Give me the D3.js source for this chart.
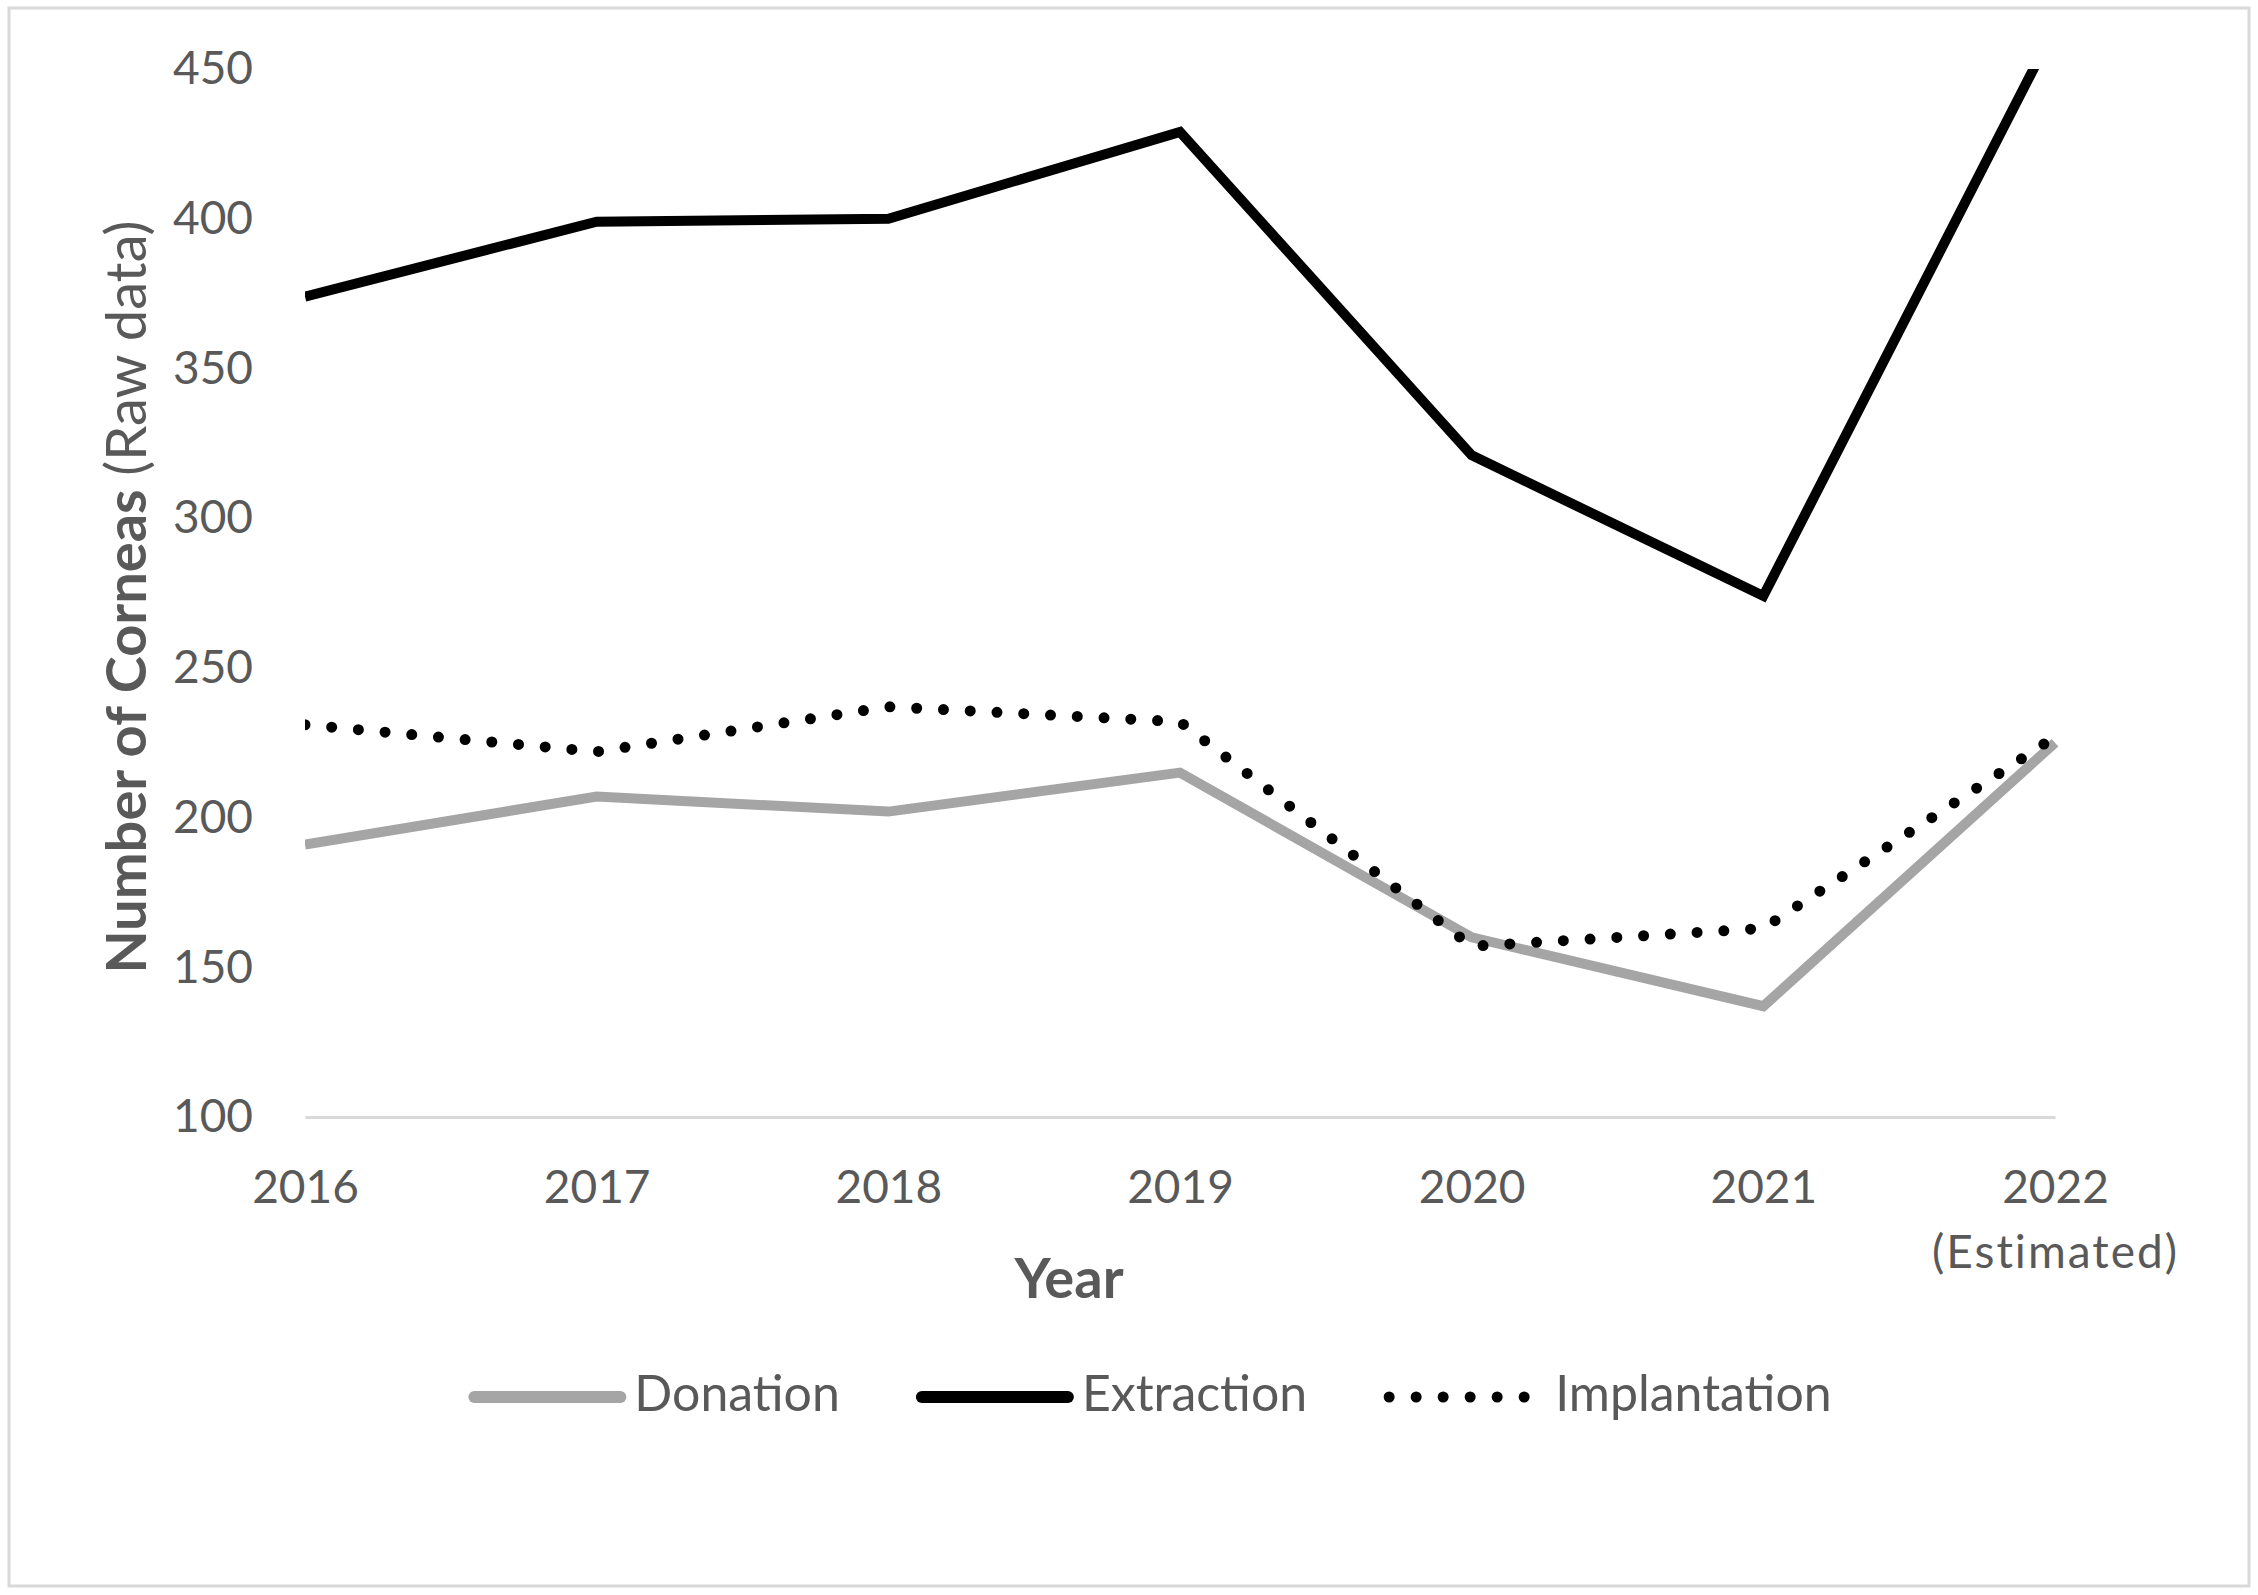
<!DOCTYPE html>
<html>
<head>
<meta charset="utf-8">
<script src="https://cdn.jsdelivr.net/npm/d3@7"></script>
<style>
  body { margin: 0; background: #fff; }
  text { font-family: Lato, "Open Sans", sans-serif; fill: #595959; }
</style>
</head>
<body>
<svg id="chart" width="2258" height="1595"></svg>
<script>
const years = ["2016", "2017", "2018", "2019", "2020", "2021", "2022"];
const yearNotes = ["", "", "", "", "", "", "(Estimated)"];
const yTicks = [100, 150, 200, 250, 300, 350, 400, 450];

const donation = [191, 207, 202, 215, 160, 137, 225];
const extraction = [374, 399, 400, 429, 321, 274, 464];
const implantation = [231, 222, 237, 232, 157, 163, 227];

const seriesNames = ["Donation", "Extraction", "Implantation"];

const svg = d3.select("#chart");
const W = +svg.attr("width"), H = +svg.attr("height");

// outer frame
svg.append("rect")
  .attr("x", 9).attr("y", 8)
  .attr("width", W - 18).attr("height", H - 17)
  .attr("fill", "#fff")
  .attr("stroke", "#d9d9d9")
  .attr("stroke-width", 3);

const plot = { left: 305, right: 2055, top: 69, bottom: 1117 };

const x = d3.scalePoint()
  .domain(years)
  .range([plot.left, plot.right]);

const y = d3.scaleLinear()
  .domain([100, 450])
  .range([plot.bottom, plot.top]);

// y axis labels only
const yAxis = svg.append("g")
  .attr("transform", `translate(${plot.left},0)`)
  .call(d3.axisLeft(y).tickValues(yTicks).tickSize(0).tickPadding(52));
yAxis.select(".domain").remove();
yAxis.selectAll("text")
  .attr("font-size", 46)
  .attr("font-family", null)
  .attr("fill", null);

// x axis (its line is the single light grid line)
const xAxis = svg.append("g")
  .attr("transform", `translate(0,${plot.bottom})`)
  .call(d3.axisBottom(x).tickSize(0).tickSizeOuter(0).tickPadding(53));
xAxis.select(".domain")
  .attr("stroke", "#d9d9d9")
  .attr("stroke-width", 3);
xAxis.selectAll("text")
  .attr("font-size", 46)
  .attr("font-family", null)
  .attr("fill", null)
  .each(function (d, i) {
    if (yearNotes[i]) {
      d3.select(this).append("tspan")
        .attr("x", 0)
        .attr("dy", "1.43em")
        .attr("letter-spacing", 2)
        .text(yearNotes[i]);
    }
  });

// clip lines to the plot area
svg.append("clipPath").attr("id", "plotclip")
  .append("rect")
  .attr("x", plot.left).attr("y", plot.top)
  .attr("width", plot.right - plot.left + 4)
  .attr("height", plot.bottom - plot.top + 20);

const line = d3.line()
  .x((d, i) => x(years[i]))
  .y(d => y(d));

const styles = {
  Donation: { color: "#a5a5a5", width: 10, dash: null, cap: "butt" },
  Extraction: { color: "#000000", width: 10, dash: null, cap: "butt" },
  Implantation: { color: "#000000", width: 11, dash: "0 26.8", cap: "round" }
};
const values = { Donation: donation, Extraction: extraction, Implantation: implantation };

const lines = svg.append("g").attr("clip-path", "url(#plotclip)");
seriesNames.forEach(name => {
  const s = styles[name];
  lines.append("path")
    .datum(values[name])
    .attr("d", line)
    .attr("fill", "none")
    .attr("stroke", s.color)
    .attr("stroke-width", s.width)
    .attr("stroke-linejoin", "miter")
    .attr("stroke-linecap", s.cap)
    .attr("stroke-dasharray", s.dash);
});

// axis titles
svg.append("text")
  .attr("x", 1069).attr("y", 1298)
  .attr("text-anchor", "middle")
  .attr("font-size", 56)
  .attr("font-weight", "bold")
  .text("Year");

const yTitle = svg.append("text")
  .attr("transform", `translate(146,${(plot.top + plot.bottom) / 2 + 4}) rotate(-90)`)
  .attr("text-anchor", "middle")
  .attr("font-size", 56);
yTitle.append("tspan").attr("font-weight", "bold").text("Number of Corneas ");
yTitle.append("tspan").text("(Raw data)");

// legend
const legend = svg.append("g");
const sampleLen = 158, textGap = 8, itemGap = 76, legendY = 1397;
let cx = 0;
seriesNames.forEach(name => {
  const s = styles[name];
  const g = legend.append("g").attr("transform", `translate(${cx},0)`);
  const extra = s.dash ? 6 : 0;
  if (s.dash) {
    g.append("line")
      .attr("x1", 6).attr("x2", 6 + 136).attr("y1", legendY).attr("y2", legendY)
      .attr("stroke", s.color).attr("stroke-width", s.width)
      .attr("stroke-linecap", "round").attr("stroke-dasharray", "0 27");
  } else {
    g.append("line")
      .attr("x1", 6).attr("x2", sampleLen - 6).attr("y1", legendY).attr("y2", legendY)
      .attr("stroke", s.color).attr("stroke-width", 12)
      .attr("stroke-linecap", "round");
  }
  const t = g.append("text")
    .attr("x", sampleLen + textGap + extra)
    .attr("y", legendY + 14)
    .attr("font-size", 50)
    .text(name);
  cx += sampleLen + textGap + extra + t.node().getComputedTextLength() + itemGap;
});
const legendW = cx - itemGap;
legend.attr("transform", `translate(${1150 - legendW / 2},0)`);
</script>
</body>
</html>
